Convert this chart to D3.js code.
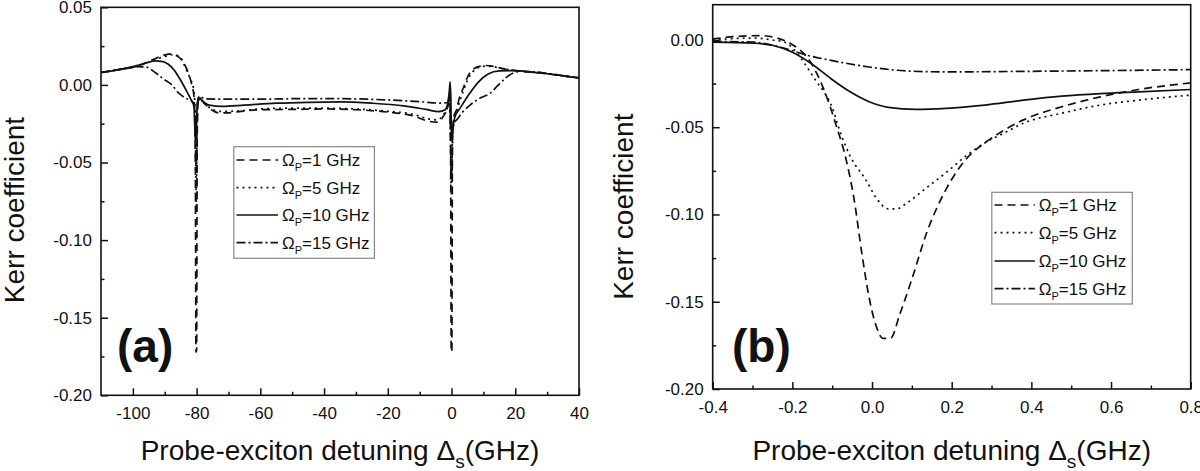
<!DOCTYPE html>
<html><head><meta charset="utf-8">
<script src="https://cdn.jsdelivr.net/npm/d3@7"></script>
<style>body{margin:0;background:#fff}svg{display:block}text{font-family:"Liberation Sans",Arial,sans-serif;fill:#111}</style>
</head><body><svg id="c" width="1200" height="471"></svg>
<script>
// ---------- DATA ----------
const seriesNames = ["1 GHz", "5 GHz", "10 GHz", "15 GHz"];
const aXTicks = [-100, -80, -60, -40, -20, 0, 20, 40];
const aXMinor = [-90, -70, -50, -30, -10, 10, 30];
const aYTicks = [0.05, 0.00, -0.05, -0.10, -0.15, -0.20];
const aYMinor = [0.025, -0.025, -0.075, -0.125, -0.175];
const bXTicks = [-0.4, -0.2, 0.0, 0.2, 0.4, 0.6, 0.8];
const bXMinor = [-0.3, -0.1, 0.1, 0.3, 0.5, 0.7];
const bYTicks = [0.00, -0.05, -0.10, -0.15, -0.20];
const bYMinor = [-0.025, -0.075, -0.125, -0.175];

// panel (a)  [detuning GHz, Kerr]
const a1 = [[-110,0.008],[-104,0.010],[-99,0.0118],[-94,0.016],[-90,0.0193],[-88,0.020],[-86,0.0185],[-84,0.014],[-82.5,0.007],[-81.5,0.000],[-80.8,-0.008],[-80.4,-0.05],[-80.2,-0.172],[-80.0,-0.172],[-79.8,-0.03],[-79.4,-0.009],[-78.5,-0.010],[-76,-0.015],[-73,-0.018],[-70,-0.018],[-66,-0.017],[-60,-0.016],[-50,-0.0158],[-40,-0.0155],[-30,-0.016],[-20,-0.0175],[-12,-0.020],[-7,-0.0235],[-4.5,-0.024],[-2.5,-0.020],[-1.2,-0.014],[-0.6,-0.006],[-0.3,-0.04],[-0.1,-0.172],[0.1,-0.172],[0.3,-0.03],[0.8,-0.02],[1.6,-0.016],[2.5,-0.008],[3.7,-0.002],[5,0.005],[6.5,0.0095],[8.5,0.0118],[11,0.0125],[13,0.012],[16,0.0105],[20,0.0092],[25,0.0083],[30,0.0072],[35,0.0058],[40,0.0045]];
const a5 = [[-110,0.008],[-104,0.010],[-99,0.0118],[-94,0.0155],[-90,0.0183],[-87,0.0195],[-85,0.0175],[-83.5,0.011],[-82,0.004],[-81,-0.002],[-80.6,-0.01],[-80.3,-0.04],[-80.1,-0.08],[-79.9,-0.03],[-79.5,-0.009],[-78.5,-0.0105],[-76,-0.0145],[-73,-0.017],[-70,-0.017],[-65,-0.0165],[-60,-0.0155],[-50,-0.015],[-40,-0.015],[-30,-0.0155],[-20,-0.017],[-12,-0.019],[-7,-0.022],[-4.5,-0.0225],[-2.5,-0.019],[-1.2,-0.014],[-0.6,-0.008],[-0.3,-0.03],[-0.1,-0.07],[0.1,-0.06],[0.3,-0.03],[0.8,-0.021],[1.6,-0.017],[2.5,-0.011],[3.7,-0.004],[5,0.003],[6.5,0.008],[8.5,0.0112],[11,0.0122],[13,0.0118],[16,0.0105],[20,0.0092],[25,0.0083],[30,0.0072],[35,0.0058],[40,0.0045]];
const a10 = [[-110,0.008],[-104,0.010],[-100,0.0118],[-96,0.014],[-93,0.0155],[-91,0.0152],[-89,0.0135],[-87,0.0095],[-85,0.003],[-83,-0.0045],[-81.5,-0.0105],[-80.8,-0.014],[-80.4,-0.035],[-80.1,-0.03],[-79.8,-0.012],[-79.3,-0.008],[-78,-0.0105],[-76,-0.013],[-72,-0.0138],[-65,-0.013],[-55,-0.0118],[-45,-0.0112],[-35,-0.011],[-25,-0.0118],[-15,-0.0135],[-8,-0.0158],[-4,-0.0172],[-2,-0.016],[-1.2,-0.012],[-0.7,-0.004],[-0.45,0.002],[-0.2,-0.01],[0,-0.035],[0.3,-0.03],[1,-0.021],[2.7,-0.015],[5.5,-0.006],[8.5,0.002],[11.5,0.007],[15,0.009],[20,0.0092],[25,0.0082],[30,0.0072],[35,0.0058],[40,0.0045]];
const a15 = [[-110,0.008],[-104,0.010],[-99,0.0117],[-96,0.0115],[-93,0.008],[-90.5,0.004],[-88,0.0005],[-85.5,-0.0055],[-83,-0.009],[-81.5,-0.0105],[-80.8,-0.012],[-80.4,-0.03],[-80.2,-0.055],[-80,-0.05],[-79.8,-0.015],[-79.3,-0.0075],[-77,-0.009],[-70,-0.0092],[-60,-0.0092],[-50,-0.0089],[-40,-0.0088],[-30,-0.009],[-20,-0.0097],[-10,-0.0108],[-3,-0.0118],[-1.5,-0.0115],[-0.8,-0.012],[-0.4,-0.025],[-0.1,-0.06],[0.1,-0.055],[0.4,-0.03],[1,-0.024],[1.6,-0.0226],[3.5,-0.0175],[5.8,-0.013],[9,-0.0085],[12,-0.0055],[14.5,-0.0005],[17,0.0045],[19.5,0.0078],[22,0.0088],[27,0.0082],[30,0.0074],[35,0.006],[40,0.0045]];

// panel (b)
const b1 = [[-0.4,0.0006],[-0.345,0.0019],[-0.28,0.0025],[-0.24,0.0012],[-0.206,-0.0019],[-0.185,-0.005],[-0.164,-0.0096],[-0.139,-0.019],[-0.114,-0.0325],[-0.089,-0.0497],[-0.065,-0.0686],[-0.045,-0.0913],[-0.026,-0.1216],[-0.007,-0.148],[0.012,-0.165],[0.027,-0.171],[0.046,-0.171],[0.07,-0.157],[0.1,-0.137],[0.138,-0.110],[0.186,-0.0855],[0.235,-0.0686],[0.283,-0.059],[0.341,-0.0505],[0.38,-0.0458],[0.476,-0.0383],[0.573,-0.0326],[0.669,-0.0284],[0.8,-0.0246]];
const b5 = [[-0.4,0.0],[-0.297,0.0011],[-0.25,0.0],[-0.219,-0.0013],[-0.19,-0.007],[-0.164,-0.0153],[-0.139,-0.024],[-0.12,-0.03],[-0.103,-0.037],[-0.079,-0.0534],[-0.055,-0.0666],[-0.016,-0.080],[0.012,-0.091],[0.041,-0.0968],[0.061,-0.0968],[0.09,-0.093],[0.138,-0.0845],[0.186,-0.076],[0.235,-0.0666],[0.283,-0.059],[0.331,-0.0534],[0.38,-0.0477],[0.476,-0.042],[0.573,-0.0373],[0.669,-0.0345],[0.8,-0.0316]];
const b10 = [[-0.4,-0.0013],[-0.297,-0.0019],[-0.248,-0.0032],[-0.2,-0.007],[-0.152,-0.0136],[-0.103,-0.0222],[-0.055,-0.0297],[-0.007,-0.0354],[0.041,-0.0386],[0.109,-0.0398],[0.186,-0.0392],[0.283,-0.0373],[0.38,-0.0345],[0.476,-0.0322],[0.573,-0.0307],[0.669,-0.0297],[0.8,-0.0284]];
const b15 = [[-0.4,-0.0008],[-0.297,-0.0013],[-0.229,-0.0042],[-0.161,-0.0089],[-0.103,-0.0117],[-0.007,-0.0155],[0.09,-0.0178],[0.186,-0.0183],[0.38,-0.018],[0.573,-0.0176],[0.8,-0.017]];

// ---------- DRAW ----------
const svg = d3.select("#c");
const dashes = ["8,5", "2,4", null, "9,3,2,3"];
const fmtY = d => d.toFixed(2);

function panel(o) {
  const x = d3.scaleLinear().domain(o.xd).range([o.l, o.r]);
  const y = d3.scaleLinear().domain(o.yd).range([o.b, o.t]);
  const g = svg.append("g");
  // minor ticks
  g.append("g").attr("transform", `translate(0,${o.b})`)
    .call(d3.axisBottom(x).tickValues(o.xMinor).tickSize(-3.5).tickFormat(""));
  g.append("g").attr("transform", `translate(${o.l},0)`)
    .call(d3.axisLeft(y).tickValues(o.yMinor).tickSize(-3.5).tickFormat(""));
  // major
  g.append("g").attr("class","xa").attr("transform", `translate(0,${o.b})`)
    .call(d3.axisBottom(x).tickValues(o.xTicks).tickSize(-7).tickPadding(12).tickFormat(o.xf));
  g.append("g").attr("class","ya").attr("transform", `translate(${o.l},0)`)
    .call(d3.axisLeft(y).tickValues(o.yTicks).tickSize(-7).tickPadding(9).tickFormat(fmtY));
  g.selectAll(".domain").remove();
  g.selectAll(".tick line").attr("stroke", "#111").attr("stroke-width", 1.5);
  g.selectAll(".tick text").style("font-size", "17px").attr("fill", "#111")
    .style("font-family", '"Liberation Sans",Arial,sans-serif');
  // frame
  g.append("rect").attr("x", o.l).attr("y", o.t).attr("width", o.r - o.l).attr("height", o.b - o.t)
    .attr("fill", "none").attr("stroke", "#111").attr("stroke-width", 1.6);
  // curves
  const clipId = "clip" + o.name;
  svg.append("clipPath").attr("id", clipId).append("rect")
    .attr("x", o.l).attr("y", o.t).attr("width", o.r - o.l).attr("height", o.b - o.t);
  const line = d3.line().x(d => x(d[0])).y(d => y(d[1])).curve(d3.curveMonotoneX);
  o.data.forEach((s, i) => {
    g.append("path").attr("d", line(s)).attr("fill", "none").attr("stroke", "#111")
      .attr("stroke-width", 1.7).attr("stroke-dasharray", dashes[i])
      .attr("clip-path", `url(#${clipId})`);
  });
  // legend
  const L = o.leg;
  g.append("rect").attr("x", L.x0).attr("y", L.y0).attr("width", L.x1 - L.x0).attr("height", L.y1 - L.y0)
    .attr("fill", "#fff").attr("stroke", "#888").attr("stroke-width", 1.2);
  seriesNames.forEach((nm, i) => {
    const yy = L.rows[i];
    g.append("line").attr("x1", L.lx0).attr("x2", L.lx1).attr("y1", yy).attr("y2", yy)
      .attr("stroke", "#111").attr("stroke-width", 1.7).attr("stroke-dasharray", dashes[i]);
    const t = g.append("text").attr("x", L.tx).attr("y", yy + 6).style("font-size", "17px");
    t.append("tspan").text("Ω");
    t.append("tspan").text("P").style("font-size", "11px").attr("dy", 5);
    t.append("tspan").text("=" + nm).attr("dy", -5);
  });
  // panel label
  g.append("text").attr("x", o.pl[0]).attr("y", o.pl[1]).text(o.label)
    .style("font-size", "46px").style("font-weight", "bold");
  // axis titles
  const xt = g.append("text").attr("x", (o.l + o.r) / 2).attr("y", 460)
    .attr("text-anchor", "middle").style("font-size", "28px");
  xt.append("tspan").text("Probe-exciton detuning Δ");
  xt.append("tspan").text("s").style("font-size", "19px").attr("dy", 8);
  xt.append("tspan").text("(GHz)").attr("dy", -8);
  g.append("text").attr("transform", `translate(${o.yt[0]},${o.yt[1]}) rotate(-90)`)
    .attr("text-anchor", "middle").style("font-size", "28px").text("Kerr coefficient");
}

panel({name:"a", l:101, r:579, t:7.3, b:395.3, xd:[-110,40], yd:[-0.20,0.05],
  xTicks:aXTicks, xMinor:aXMinor, yTicks:aYTicks, yMinor:aYMinor, xf:d => String(d),
  data:[a1,a5,a10,a15],
  leg:{x0:233.8, x1:374.4, y0:146.7, y1:258.3, rows:[160,187.7,215,242.7], lx0:236.5, lx1:278, tx:282},
  pl:[117,362], label:"(a)", yt:[24,210]});
panel({name:"b", l:712.7, r:1190.7, t:4.7, b:389, xd:[-0.4,0.8], yd:[-0.20,0.0202],
  xTicks:bXTicks, xMinor:bXMinor, yTicks:bYTicks, yMinor:bYMinor, xf:d => d.toFixed(1),
  data:[b1,b5,b10,b15],
  leg:{x0:991.8, x1:1132.3, y0:192.3, y1:304, rows:[205,232.7,261,288.7], lx0:994.5, lx1:1034.9, tx:1038.7},
  pl:[732,362], label:"(b)", yt:[633,206.7]});
</script></body></html>
